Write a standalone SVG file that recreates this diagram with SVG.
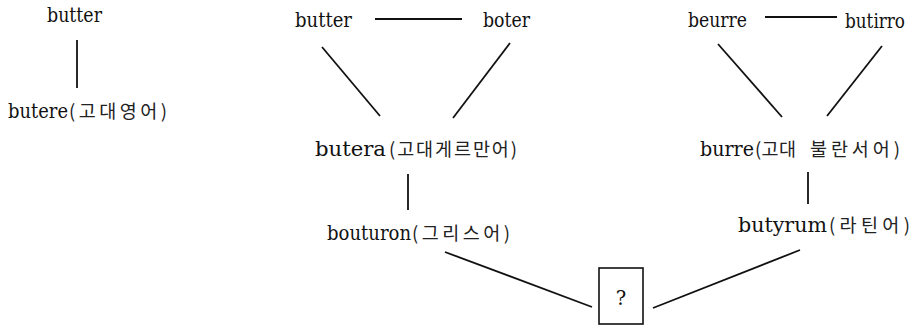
<svg xmlns="http://www.w3.org/2000/svg" width="913" height="330" viewBox="0 0 913 330">
<style>
text{font-family:"DejaVu Serif","Liberation Serif",serif;font-size:19.5px;fill:#111}
text.k{font-family:"Noto Sans CJK KR","Noto Sans",sans-serif;font-size:18.5px;fill:#222}
.c line{stroke:#111;stroke-width:1.8;fill:none}
.box{fill:#fff;stroke:#111;stroke-width:1.6}
</style>
<rect width="913" height="330" fill="#fff"/>
<g class="c" id="connectors">
<line x1="77" y1="40" x2="77" y2="88"/>
<line x1="375" y1="19" x2="462" y2="19"/>
<line x1="322" y1="47" x2="380" y2="116"/>
<line x1="510" y1="43" x2="453" y2="118"/>
<line x1="408" y1="174" x2="408" y2="210"/>
<line x1="765" y1="17" x2="837" y2="17"/>
<line x1="718" y1="44" x2="782" y2="117"/>
<line x1="882" y1="46" x2="827" y2="116"/>
<line x1="808" y1="172" x2="808" y2="204"/>
<line x1="445" y1="252" x2="592" y2="307"/>
<line x1="653" y1="308" x2="800" y2="250"/>
</g>
<g id="n-butter-en"><text x="47" y="22" textLength="55" lengthAdjust="spacingAndGlyphs">butter</text></g>
<g id="n-butere"><text x="8" y="118" textLength="60" lengthAdjust="spacingAndGlyphs">butere</text><text class="k" x="69" y="118" textLength="98" lengthAdjust="spacing">(고대영어)</text></g>
<g id="n-butter-de"><text x="295" y="27" textLength="57" lengthAdjust="spacingAndGlyphs">butter</text></g>
<g id="n-boter"><text x="483" y="27" textLength="47" lengthAdjust="spacingAndGlyphs">boter</text></g>
<g id="n-butera"><text x="315" y="156" textLength="71" lengthAdjust="spacingAndGlyphs">butera</text><text class="k" x="389" y="156" textLength="128" lengthAdjust="spacing">(고대게르만어)</text></g>
<g id="n-bouturon"><text x="327" y="240" textLength="84" lengthAdjust="spacingAndGlyphs">bouturon</text><text class="k" x="412" y="240" textLength="98" lengthAdjust="spacing">(그리스어)</text></g>
<g id="n-beurre"><text x="688" y="27" textLength="59" lengthAdjust="spacingAndGlyphs">beurre</text></g>
<g id="n-butirro"><text x="845" y="28" textLength="60" lengthAdjust="spacingAndGlyphs">butirro</text></g>
<g id="n-burre"><text x="700" y="156" textLength="54" lengthAdjust="spacingAndGlyphs">burre</text><text class="k" x="755" y="156" textLength="41" lengthAdjust="spacing">(고대</text><text class="k" x="810" y="156" textLength="90" lengthAdjust="spacing">불란서어)</text></g>
<g id="n-butyrum"><text x="738" y="232" textLength="89" lengthAdjust="spacingAndGlyphs">butyrum</text><text class="k" x="829" y="232" textLength="81" lengthAdjust="spacing">(라틴어)</text></g>
<g id="n-unknown"><rect class="box" x="599" y="268" width="44" height="56"/><text x="621" y="305" text-anchor="middle" font-size="18">?</text></g>
</svg>
